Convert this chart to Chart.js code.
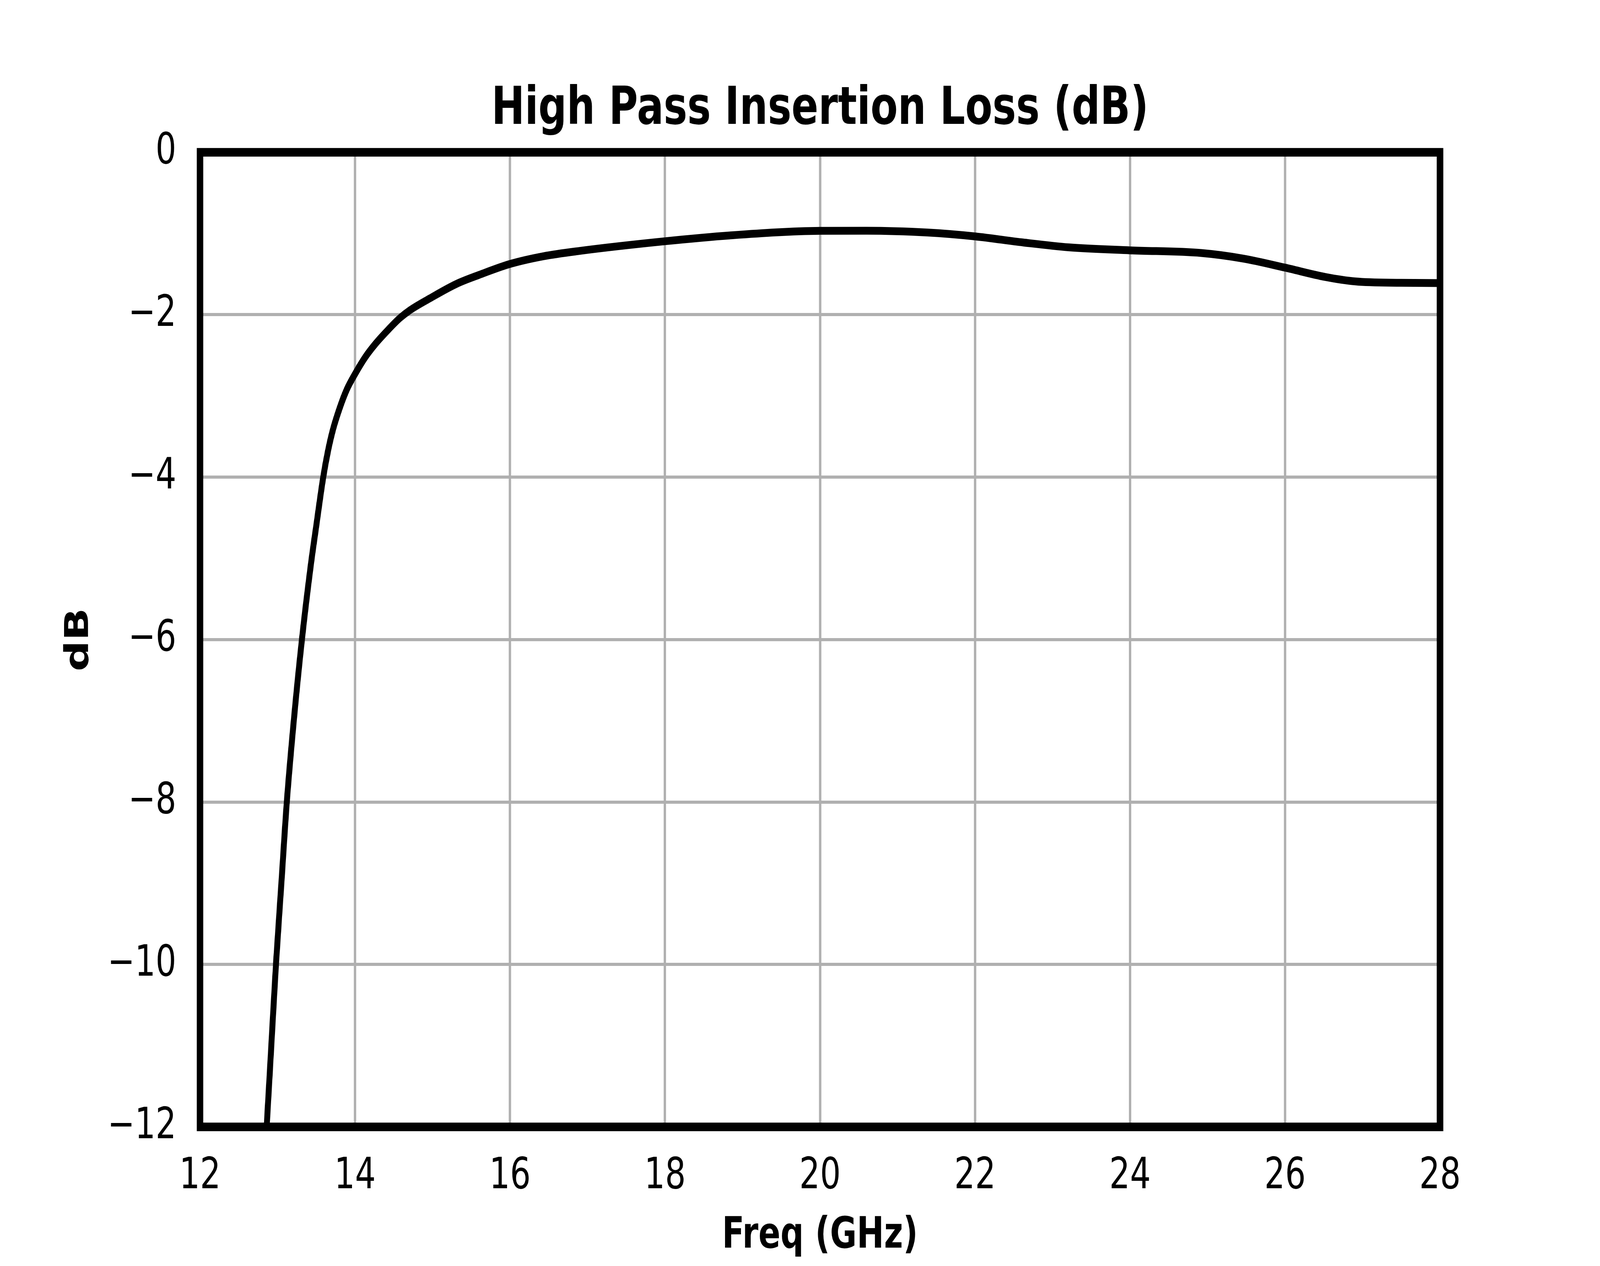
<!DOCTYPE html>
<html>
<head>
<meta charset="utf-8">
<title>High Pass Insertion Loss</title>
<script src="https://cdn.jsdelivr.net/npm/chart.js@4.4.1/dist/chart.umd.min.js"></script>
<style>
  html, body { margin: 0; padding: 0; background: #fff; overflow: hidden; }
</style>
</head>
<body>
<!-- the figure is drawn at 5400 x 3240 and shown over the whole window -->
<canvas id="loss-chart" width="5400" height="3240" style="display:block;width:100vw;height:100vh"></canvas>
<script>
// values
const freqGHz = [12.84, 12.86, 12.92, 12.98, 13.05, 13.12, 13.21, 13.315, 13.43, 13.50,
  13.59, 13.651, 13.714, 13.803, 13.893, 14.00, 14.134, 14.262, 14.428, 14.58,
  14.708, 14.963, 15.31, 15.60, 16.00, 16.43, 16.89, 18.00, 18.84, 20.00,
  20.60, 21.38, 22.00, 22.62, 23.21, 24.00, 24.92, 25.47, 26.00, 26.52,
  26.91, 27.50, 28.00];
const lossDb = [-12.3, -12.0, -11.0, -10.0, -9.0, -8.0, -7.0, -6.0, -5.08, -4.6,
  -4.0, -3.68, -3.42, -3.147, -2.923, -2.73, -2.52, -2.36, -2.185, -2.04,
  -1.945, -1.80, -1.62, -1.51, -1.375, -1.28, -1.215, -1.095, -1.023, -0.967,
  -0.965, -0.987, -1.035, -1.11, -1.17, -1.207, -1.24, -1.31, -1.42, -1.535,
  -1.59, -1.607, -1.61];
const xTicks = [12, 14, 16, 18, 20, 22, 24, 26, 28];
const yTicks = [0, -2, -4, -6, -8, -10, -12];

const points = freqGHz.map((f, i) => ({ x: f, y: lossDb[i] }));

const FONT = "'DejaVu Sans', sans-serif";
const GRID = "#b0b0b0";

// box around the plot area, like the axes spines
const frame = {
  id: "frame",
  afterDatasetsDraw(chart) {
    const { ctx, chartArea: a } = chart;
    ctx.save();
    ctx.strokeStyle = "#000";
    ctx.lineWidth = 22;
    ctx.lineJoin = "miter";
    ctx.strokeRect(a.left, a.top, a.right - a.left, a.bottom - a.top);
    ctx.restore();
  },
};

const canvas = document.getElementById("loss-chart");
new Chart(canvas.getContext("2d"), {
  type: "line",
  data: {
    datasets: [
      {
        label: "Insertion Loss",
        data: points,
        borderColor: "#000",
        borderWidth: 20,
        pointRadius: 0,
        cubicInterpolationMode: "monotone",
        fill: false,
      },
    ],
  },
  options: {
    responsive: false,
    devicePixelRatio: 1,
    animation: false,
    layout: { padding: { left: 0, right: 540, top: 0, bottom: 0 } },
    plugins: {
      legend: { display: false },
      tooltip: { enabled: false },
      title: {
        display: true,
        fullSize: false,
        text: "High Pass Insertion Loss (dB)",
        color: "#000",
        font: { family: FONT, size: 134, weight: "bold", lineHeight: 1.2 },
        padding: { top: 202, bottom: 27 },
      },
    },
    scales: {
      x: {
        type: "linear",
        min: 12,
        max: 28,
        afterBuildTicks: (s) => { s.ticks = xTicks.map((v) => ({ value: v })); },
        afterFit: (s) => { s.height = 356; },
        grid: { color: GRID, lineWidth: 8, drawTicks: false },
        border: { display: false },
        ticks: {
          color: "#000",
          padding: 62,
          maxRotation: 0,
          font: { family: FONT, size: 110, lineHeight: 1.2 },
        },
        title: {
          display: true,
          text: "Freq (GHz)",
          color: "#000",
          font: { family: FONT, size: 110, weight: "bold", lineHeight: 1.2 },
          padding: { top: 0, bottom: 10 },
        },
      },
      y: {
        min: -12,
        max: 0,
        afterBuildTicks: (s) => { s.ticks = yTicks.map((v) => ({ value: v })); },
        afterFit: (s) => { s.width = 675; },
        grid: { color: GRID, lineWidth: 8, drawTicks: false },
        border: { display: false },
        ticks: {
          color: "#000",
          padding: 80,
          font: { family: FONT, size: 110, lineHeight: 1.2 },
          callback: (v) => String(v).replace("-", "\u2212"),
        },
        title: {
          display: true,
          text: "dB",
          color: "#000",
          font: { family: FONT, size: 110, weight: "bold", lineHeight: 1.2 },
          padding: { top: 202, bottom: 0 },
        },
      },
    },
  },
  plugins: [frame],
});
// keep the stretch to the window in case the library reset the element size
canvas.style.width = "100vw";
canvas.style.height = "100vh";
</script>
</body>
</html>
